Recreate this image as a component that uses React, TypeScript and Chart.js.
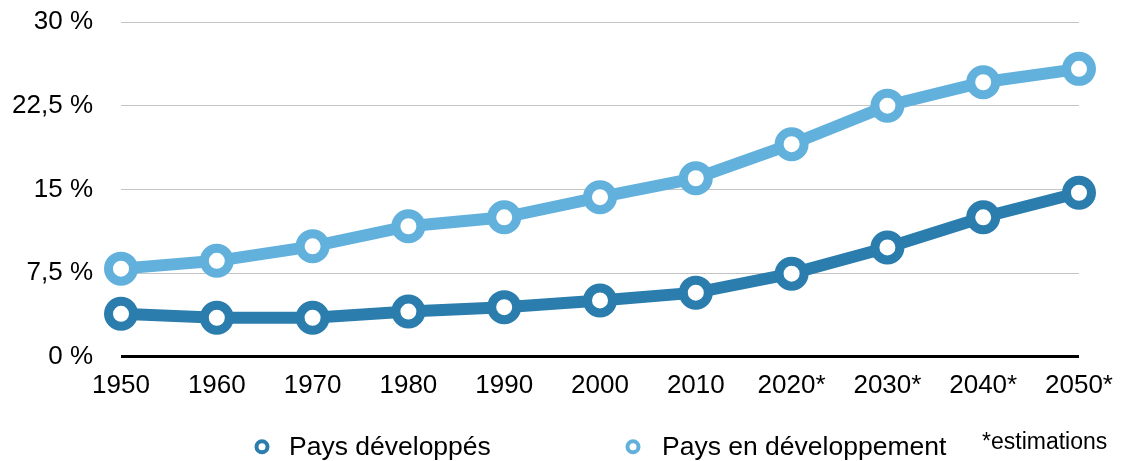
import { useEffect, useRef } from "react";
import { Chart, registerables } from "chart.js";

Chart.register(...registerables);

const years = ["1950", "1960", "1970", "1980", "1990", "2000", "2010", "2020*", "2030*", "2040*", "2050*"];
const developed = [3.85, 3.5, 3.5, 4.05, 4.45, 5.05, 5.75, 7.45, 9.8, 12.5, 14.7];
const developing = [7.9, 8.6, 9.9, 11.7, 12.5, 14.3, 16.0, 19.05, 22.5, 24.6, 25.8];
const seriesNames = ["Pays développés", "Pays en développement"];
const seriesColors = ["#2a7dad", "#62b1dd"];
const yTicks = [0, 7.5, 15, 22.5, 30];
const note = "*estimations";

const FONT = "'Liberation Sans', Arial, Helvetica, sans-serif";

const legendPlugin = {
  id: "customLegend",
  afterDraw(chart: any) {
    const ctx = chart.ctx;
    const area = chart.chartArea;
    const items = [
      { ring: 262, text: 289 },
      { ring: 633, text: 662 },
    ];
    const baseY = area.bottom + 98;
    ctx.save();
    chart.data.datasets.forEach((ds: any, i: number) => {
      const it = items[i];
      ctx.beginPath();
      ctx.arc(it.ring, baseY - 8, 5.5, 0, Math.PI * 2);
      ctx.fillStyle = "#ffffff";
      ctx.fill();
      ctx.lineWidth = 4;
      ctx.strokeStyle = ds.borderColor;
      ctx.stroke();
      ctx.fillStyle = "#000000";
      ctx.font = `26.5px ${FONT}`;
      ctx.textAlign = "left";
      ctx.textBaseline = "alphabetic";
      ctx.fillText(ds.label, it.text, baseY);
    });
    ctx.font = `23px ${FONT}`;
    ctx.textAlign = "left";
    ctx.textBaseline = "alphabetic";
    ctx.fillStyle = "#000000";
    ctx.fillText(note, 982, baseY - 6);
    ctx.restore();
  },
};

export default function App() {
  const ref = useRef<HTMLCanvasElement | null>(null);
  useEffect(() => {
    document.body.style.margin = "0";
    if (!ref.current) return;
    const chart = new Chart(ref.current, {
      type: "line",
      data: {
        labels: years,
        datasets: [
          {
            label: seriesNames[0],
            data: developed,
            borderColor: seriesColors[0],
            backgroundColor: "#ffffff",
            borderWidth: 12,
            pointRadius: 12.5,
            pointBorderWidth: 9,
            pointBackgroundColor: "#ffffff",
            pointBorderColor: seriesColors[0],
            tension: 0,
          },
          {
            label: seriesNames[1],
            data: developing,
            borderColor: seriesColors[1],
            backgroundColor: "#ffffff",
            borderWidth: 12,
            pointRadius: 12.5,
            pointBorderWidth: 9,
            pointBackgroundColor: "#ffffff",
            pointBorderColor: seriesColors[1],
            tension: 0,
          },
        ],
      },
      options: {
        responsive: false,
        animation: false,
        layout: { padding: { left: 0, right: 42, top: 22, bottom: 47 } },
        plugins: {
          legend: { display: false },
          tooltip: { enabled: false },
        },
        scales: {
          x: {
            offset: false,
            grid: { display: false, drawTicks: false },
            border: { display: false },
            ticks: {
              color: "#000000",
              font: { family: FONT, size: 26 },
              padding: 13,
              maxRotation: 0,
              autoSkip: false,
            },
            afterFit: (s: any) => {
              s.paddingLeft = 0;
              s.paddingRight = 0;
            },
          },
          y: {
            min: 0,
            max: 30,
            afterBuildTicks: (s: any) => {
              s.ticks = yTicks.map((v) => ({ value: v }));
            },
            grid: {
              drawTicks: false,
              color: (c: any) => (c.tick && c.tick.value === 0 ? "#000000" : "#c4c4c4"),
              lineWidth: (c: any) => (c.tick && c.tick.value === 0 ? 3 : 1),
            },
            border: { display: false },
            ticks: {
              color: "#000000",
              font: { family: FONT, size: 26 },
              padding: 28,
              callback: (v: any) => `${String(v).replace(".", ",")} %`,
            },
            afterFit: (s: any) => {
              s.width = 121;
              s.paddingTop = 0;
              s.paddingBottom = 0;
            },
          },
        },
      },
      plugins: [legendPlugin],
    });
    return () => chart.destroy();
  }, []);
  return (
    <div style={{ width: 1121, height: 461, background: "#ffffff" }}>
      <canvas ref={ref} width={1121} height={461} style={{ display: "block" }} />
    </div>
  );
}
